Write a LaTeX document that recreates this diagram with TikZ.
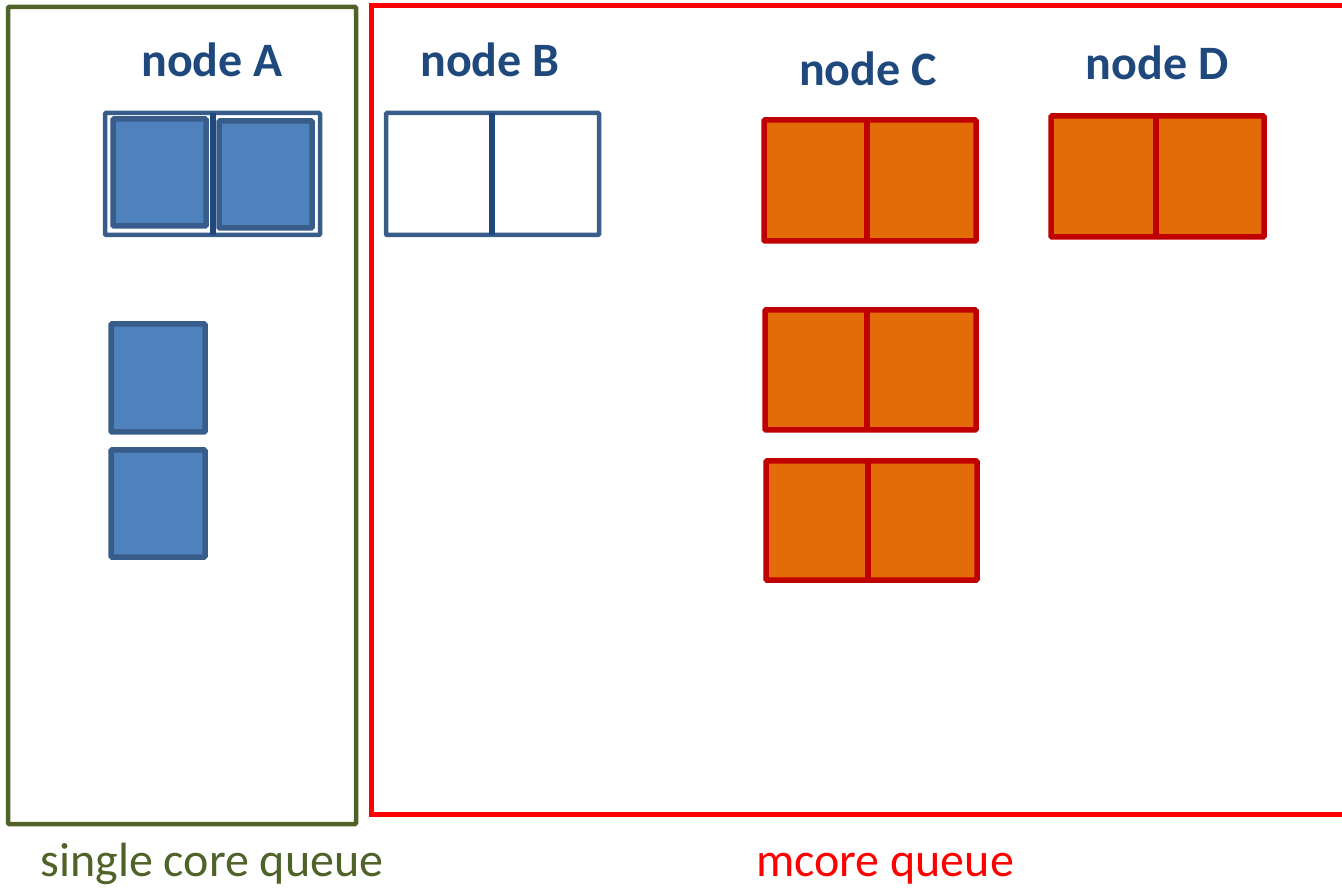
\documentclass[tikz,border=0pt]{standalone}
\usepackage{fontspec}
\setmainfont{Carlito}
\definecolor{bluefill}{HTML}{4F81BD}
\definecolor{bluedraw}{HTML}{385D8A}
\definecolor{bluedark}{HTML}{1F497D}
\definecolor{orangefill}{HTML}{E36C09}
\definecolor{reddraw}{HTML}{C00000}
\definecolor{olive}{HTML}{4F6228}
\definecolor{brightred}{HTML}{FF0000}
\tikzset{
  title/.style={font=\fontsize{48}{52}\selectfont\bfseries, text=bluedark, anchor=base, inner sep=0pt},
  caption/.style={font=\fontsize{48}{52}\selectfont, anchor=base, inner sep=0pt},
  outerbox/.style={draw=bluedraw, line width=4.5pt, rounded corners=1pt},
  bluesq/.style={draw=bluedraw, fill=bluefill, line width=5.5pt, rounded corners=1pt},
  bluediv/.style={draw=bluedark, line width=5.5pt},
  orangebox/.style={draw=reddraw, fill=orangefill, line width=5.5pt, rounded corners=1pt},
  reddiv/.style={draw=reddraw, line width=5.5pt},
}
\begin{document}
\begin{tikzpicture}[x=1pt,y=-1pt]
\useasboundingbox (0,0) rectangle (1342,890);
% queues
\draw[olive, line width=4.5pt, rounded corners=1pt] (8,7) rectangle (356,824);
\draw[brightred, line width=5pt] (1360,6) -- (371,6) -- (371,814) -- (1360,814);
% node A
\node[title] (la) at (212,77) {node A};
\draw[outerbox] (105,113) rectangle (320,235);
\draw[draw=white, line width=2pt] (110,117) rectangle (209,229);
\draw[draw=white, line width=2pt] (215,117) rectangle (316,231);
\draw[bluesq] (113,119) rectangle (206,226);
\draw[bluesq] (219,121) rectangle (312,228);
\draw[bluediv] (213,113) -- (213,235);
\draw[bluesq] (111,324) rectangle (205,432);
\draw[bluesq] (111,450) rectangle (205,557);
% node B
\node[title] (lb) at (490,77) {node B};
\draw[outerbox] (386,113) rectangle (599,235);
\draw[bluediv] (492,113) -- (492,235);
% node C
\node[title] (lc) at (868,86) {node C};
\draw[orangebox] (764,120) rectangle (976,241);
\draw[reddiv] (867,120) -- (867,241);
\draw[orangebox] (765,310) rectangle (976,430);
\draw[reddiv] (867,310) -- (867,430);
\draw[orangebox] (766,461) rectangle (977,580);
\draw[reddiv] (868,461) -- (868,580);
% node D
\node[title] (ld) at (1157,80) {node D};
\draw[orangebox] (1051,116) rectangle (1264,237);
\draw[reddiv] (1156,116) -- (1156,237);
% captions
\node[caption, text=olive] (cs) at (212,876) {single core queue};
\node[caption, text=brightred] (cm) at (885,876) {mcore queue};
\end{tikzpicture}
\end{document}
